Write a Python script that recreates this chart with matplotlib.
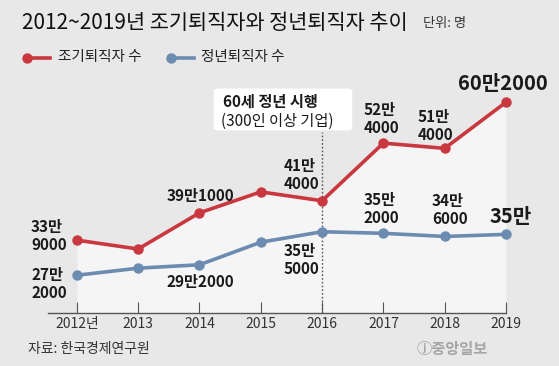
import matplotlib
matplotlib.use('Agg')
import matplotlib.pyplot as plt
from matplotlib.patches import FancyBboxPatch

plt.rcParams['font.family'] = ['Noto Sans CJK KR', 'DejaVu Sans']

# 데이터 (단위: 천 명)
years = [2012, 2013, 2014, 2015, 2016, 2017, 2018, 2019]
year_labels = ['2012년', '2013', '2014', '2015', '2016', '2017', '2018', '2019']
early = [339, 322, 391, 431, 414, 524, 514, 602]
regular = [272, 285.5, 292, 335, 355, 352, 346, 350]

early_labels = {2012: '33만\n9000', 2014: '39만1000', 2016: '41만\n4000',
                2017: '52만\n4000', 2018: '51만\n4000', 2019: '60만2000'}
regular_labels = {2012: '27만\n2000', 2014: '29만2000', 2016: '35만\n5000',
                  2017: '35만\n2000', 2018: '34만\n6000', 2019: '35만'}

RED = '#c9383f'
BLUE = '#6b8bb1'
BG = '#e8e8e8'
W, H = 559, 366

fig = plt.figure(figsize=(W / 100, H / 100), dpi=100, facecolor=BG)


def fx(px):
    return px / W


def fy(py):
    return 1 - py / H


ax = fig.add_axes([fx(48), fy(313), fx(506) - fx(48), fy(0) - fy(313)])
ax.set_facecolor('none')
ax.set_xlim(2011.53, 2019)
ax.set_ylim(200, 797)
for s in ['top', 'right', 'left']:
    ax.spines[s].set_visible(False)
ax.spines['bottom'].set_color('#555555')
ax.spines['bottom'].set_linewidth(1)
ax.set_yticks([])
ax.set_xticks(years)
ax.set_xticklabels(year_labels, fontsize=10, color='#333333')
ax.tick_params(axis='x', direction='in', length=8, width=0.8, color='#555555', pad=3)

# 배경 채우기
ax.fill_between(years, early, 200, color='#f5f5f5', zorder=1, linewidth=0)

# 정년 시행 점선
ax.vlines(2016, 200, 545, colors='#555555', linestyles=(0, (1.2, 1.5)), linewidth=1, zorder=2)

ax.plot(years, regular, color=BLUE, lw=2.6, marker='o', ms=6.5, zorder=3, clip_on=False)
ax.plot(years, early, color=RED, lw=2.6, marker='o', ms=6.5, zorder=4, clip_on=False)

# 라벨 위치 (픽셀 오프셋)
early_off = {2012: (-28, 4), 2014: (1, 16.5), 2016: (-21, 26), 2017: (-2, 24),
             2018: (-9, 22), 2019: (-3, 19)}
regular_off = {2012: (-28, -8.5), 2014: (1, -17), 2016: (-21, -28), 2017: (-2, 24),
               2018: (5, 26), 2019: (5, 18)}

for yr, txt in early_labels.items():
    big = yr == 2019
    ax.annotate(txt, (yr, early[years.index(yr)]), xytext=early_off[yr],
                textcoords='offset pixels', ha='center', va='center',
                fontsize=14.5 if big else 11, fontweight='bold', color='#1a1a1a',
                linespacing=1.15, multialignment='left', zorder=5)
for yr, txt in regular_labels.items():
    big = yr == 2019
    ax.annotate(txt, (yr, regular[years.index(yr)]), xytext=regular_off[yr],
                textcoords='offset pixels', ha='center', va='center',
                fontsize=14.5 if big else 11, fontweight='bold', color='#1a1a1a',
                linespacing=1.15, multialignment='left', zorder=5)

# 안내 박스
box = FancyBboxPatch((fx(216), fy(129)), fx(350) - fx(216), fy(90) - fy(129),
                     boxstyle='round,pad=0.004,rounding_size=0.008',
                     transform=fig.transFigure, facecolor='white', edgecolor='none', zorder=6)
fig.add_artist(box)
fig.text(fx(223), fy(102), '60세 정년 시행', fontsize=11, fontweight='bold',
         color='#1a1a1a', va='center', ha='left', zorder=7)
fig.text(fx(221), fy(121), '(300인 이상 기업)', fontsize=11,
         color='#1a1a1a', va='center', ha='left', zorder=7)

# 제목
fig.text(fx(22), fy(23), '2012~2019년 조기퇴직자와 정년퇴직자 추이', fontsize=15,
         color='#111111', va='center', ha='left')
fig.text(fx(423), fy(24), '단위: 명', fontsize=9.5, color='#333333', va='center', ha='left')

# 범례
fig.add_artist(plt.Line2D([fx(26), fx(50)], [fy(58), fy(58)], color=RED, lw=2.6,
                          transform=fig.transFigure))
fig.add_artist(plt.Line2D([fx(27)], [fy(58)], color=RED, marker='o', ms=6.5,
                          transform=fig.transFigure))
fig.text(fx(58), fy(57), '조기퇴직자 수', fontsize=10.5, color='#222222', va='center')
fig.add_artist(plt.Line2D([fx(170), fx(194)], [fy(58), fy(58)], color=BLUE, lw=2.6,
                          transform=fig.transFigure))
fig.add_artist(plt.Line2D([fx(171)], [fy(58)], color=BLUE, marker='o', ms=6.5,
                          transform=fig.transFigure))
fig.text(fx(201), fy(57), '정년퇴직자 수', fontsize=10.5, color='#222222', va='center')

# 출처
fig.text(fx(28), fy(349), '자료: 한국경제연구원', fontsize=10, color='#333333', va='center')
fig.text(fx(488), fy(349), 'ⓙ중앙일보', fontsize=11, color='#a5a5a5', va='center',
         ha='right', fontweight='bold')

fig.savefig('out.png', dpi=100, facecolor=BG)
